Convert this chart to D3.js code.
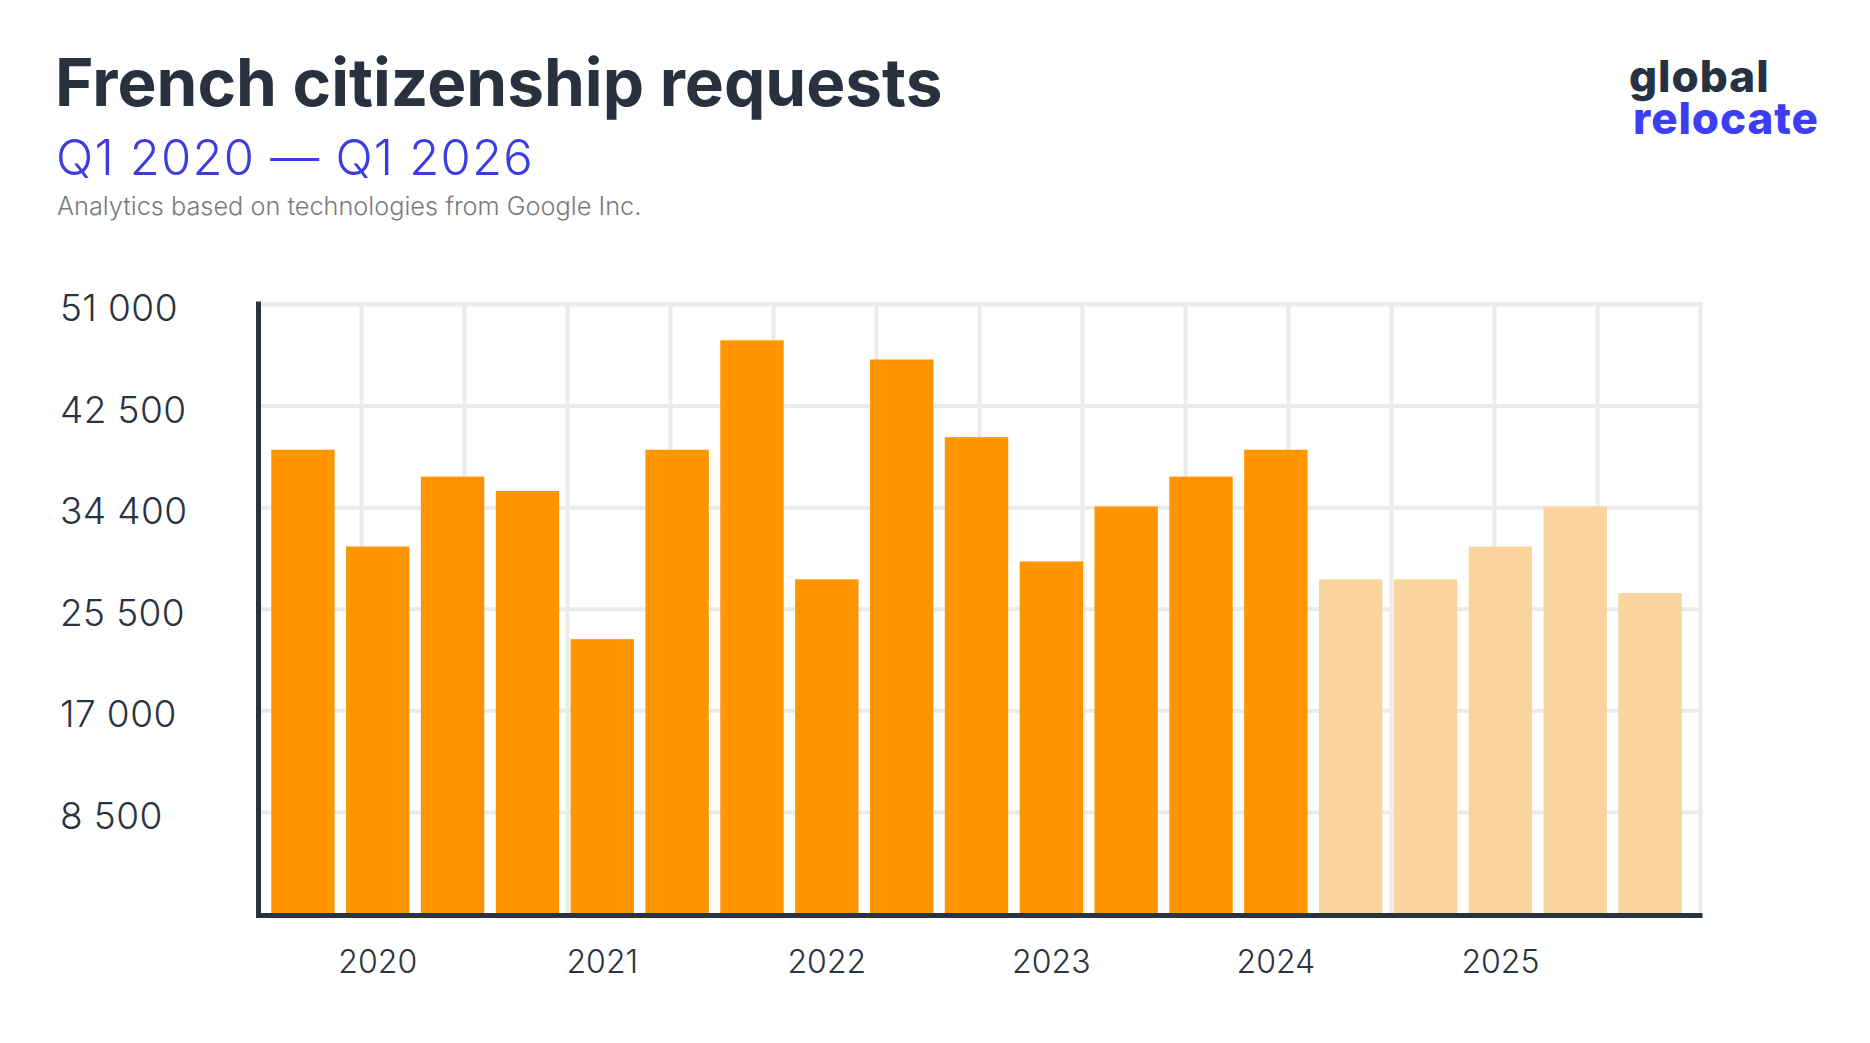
<!DOCTYPE html>
<html>
<head>
<meta charset="utf-8">
<script src="https://cdn.jsdelivr.net/npm/d3@7"></script>
<style>
  html, body { margin: 0; padding: 0; background: #ffffff; }
  svg { display: block; }
  text { font-family: Inter, "Noto Sans", sans-serif; }
</style>
</head>
<body>
<svg id="chart" width="1870" height="1043"></svg>
<script>
// ---- data ----
const periods = ["P01","P02","P03","P04","P05","P06","P07","P08","P09","P10",
                 "P11","P12","P13","P14","P15","P16","P17","P18","P19"];
const values = [38850, 30750, 36600, 35400, 23000, 38850, 48000, 28000, 46400, 39900,
                29500, 34100, 36600, 38850, 28000, 28000, 30750, 34100, 26850];
const isForecast = [false,false,false,false,false,false,false,false,false,false,
                    false,false,false,false,true,true,true,true,true];
const yTickValues = [8500, 17000, 25500, 34000, 42500, 51000];
const yTickLabels = ["8 500", "17 000", "25 500", "34 400", "42 500", "51 000"];
const yearLabels = ["2020", "2021", "2022", "2023", "2024", "2025"];
const yearPeriods = ["P02", "P05", "P08", "P11", "P14", "P17"];

const titleText = "French citizenship requests";
const subtitleText = "Q1 2020 \u2014 Q1 2026";
const sourceText = "Analytics based on technologies from Google Inc.";
const logoLines = ["global", "relocate"];

// ---- layout ----
const svg = d3.select("#chart");
const plot = { left: 258.5, right: 1700.5, top: 304.5, bottom: 914 };

const x = d3.scaleBand().domain(periods).range([265.5, 1687.5])
  .paddingInner(0.153).paddingOuter(0.0765);
const y = d3.scaleLinear().domain([0, 51000]).range([plot.bottom, plot.top]);
const gridX = d3.scaleLinear().domain([0, 14]).range([plot.left, plot.right]);

const gridColor = "#ebebeb";
const axisColor = "#2b3341";

// grid
const g = svg.append("g");
g.selectAll("line.vg").data(d3.range(1, 15)).join("line")
  .attr("class", "vg")
  .attr("x1", d => gridX(d)).attr("x2", d => gridX(d))
  .attr("y1", plot.top - 2).attr("y2", plot.bottom)
  .attr("stroke", gridColor).attr("stroke-width", 4);
g.selectAll("line.hg").data(yTickValues).join("line")
  .attr("class", "hg")
  .attr("x1", plot.left).attr("x2", plot.right + 2)
  .attr("y1", d => y(d)).attr("y2", d => y(d))
  .attr("stroke", gridColor).attr("stroke-width", 4);

// bars
svg.append("g").selectAll("rect").data(values).join("rect")
  .attr("x", (d, i) => x(periods[i]))
  .attr("width", x.bandwidth())
  .attr("y", d => y(d))
  .attr("height", d => y(0) - y(d))
  .attr("fill", (d, i) => isForecast[i] ? "#f9d49c" : "#ff9600");

// axes
const yAxis = d3.axisLeft(y).tickValues(yTickValues)
  .tickFormat((d, i) => yTickLabels[i]).tickSize(0).tickPadding(0);
const yAxisG = svg.append("g").attr("transform", `translate(${plot.left},0)`).call(yAxis);
yAxisG.select(".domain").remove();
yAxisG.selectAll("text")
  .attr("x", 60 - plot.left).attr("dy", 0).attr("y", 16)
  .attr("text-anchor", "start")
  .style("font-family", "Inter, sans-serif")
  .style("font-size", "37px").style("font-weight", 300)
  .style("letter-spacing", "0.4px")
  .attr("fill", axisColor);

const xAxis = d3.axisBottom(x).tickValues(yearPeriods)
  .tickFormat(d => yearLabels[yearPeriods.indexOf(d)]).tickSize(0).tickPadding(0);
const xAxisG = svg.append("g").attr("transform", `translate(0,${plot.bottom})`).call(xAxis);
xAxisG.select(".domain").remove();
xAxisG.selectAll("text")
  .attr("y", 59).attr("dy", 0)
  .style("font-family", "Inter, sans-serif")
  .style("font-size", "32px").style("font-weight", 300)
  .attr("fill", axisColor);

svg.append("line")
  .attr("x1", plot.left).attr("x2", plot.left)
  .attr("y1", plot.top - 3).attr("y2", plot.bottom + 4)
  .attr("stroke", axisColor).attr("stroke-width", 5);
svg.append("line")
  .attr("x1", plot.left - 2.5).attr("x2", plot.right + 2)
  .attr("y1", plot.bottom + 1.5).attr("y2", plot.bottom + 1.5)
  .attr("stroke", axisColor).attr("stroke-width", 5);

// titles
svg.append("text").attr("x", 55).attr("y", 106)
  .style("font-size", "65.7px").style("font-weight", 700)
  .attr("fill", "#29313f").text(titleText);
svg.append("text").attr("x", 56).attr("y", 175)
  .style("font-size", "49px").style("font-weight", 300)
  .style("letter-spacing", "1.2px")
  .attr("fill", "#3c3ce0").text(subtitleText);
svg.append("text").attr("x", 57).attr("y", 215)
  .style("font-size", "25.3px").style("font-weight", 300)
  .attr("fill", "#7a7a7a").text(sourceText);

// logo (one text block, two lines)
const logo = svg.append("text").attr("x", 1629).attr("y", 92)
  .style("font-size", "44px").style("font-weight", 800);
logo.append("tspan").attr("x", 1629).attr("dy", 0)
  .style("letter-spacing", "1px")
  .attr("fill", "#273142").text(logoLines[0]);
logo.append("tspan").attr("x", 1633).attr("dy", 42)
  .style("letter-spacing", "0.9px")
  .attr("fill", "#3d3df2").text(logoLines[1]);
</script>
</body>
</html>
